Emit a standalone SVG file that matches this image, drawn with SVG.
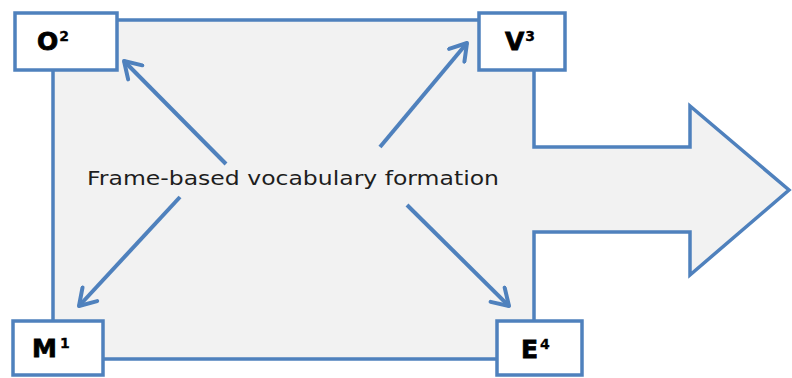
<svg xmlns="http://www.w3.org/2000/svg" width="792" height="378" viewBox="0 0 792 378">
<defs>
<style>
.box{fill:#ffffff;stroke:#4f81bd;stroke-width:3.5}
.lbl{font-family:"DejaVu Sans",Verdana,sans-serif;font-weight:bold;font-size:25px;fill:#000;stroke:#000;stroke-width:0.8}
.sup{font-size:14px;stroke-width:0.3}
.conn{stroke:#4f81bd;stroke-width:4;fill:none;marker-end:url(#ah)}
</style>
<marker id="ah" markerUnits="userSpaceOnUse" viewBox="-20 -12 24 24" refX="0" refY="0" markerWidth="24" markerHeight="24" orient="auto">
<path d="M-16,-10 L0,0 L-16,10" fill="none" stroke="#4f81bd" stroke-width="4" stroke-linecap="round" stroke-linejoin="round"/>
</marker>
</defs>
<rect width="792" height="378" fill="#ffffff"/>
<g id="frame">
<path d="M53,20 L534,20 L534,147 L690,147 L690,106 L789,190 L690,275 L690,232 L534,232 L534,359 L53,359 Z" fill="#f2f2f2" stroke="#4f81bd" stroke-width="3.5" stroke-linejoin="miter"/>
<text x="293" y="185" text-anchor="middle" font-family="'DejaVu Sans',Verdana,sans-serif" font-size="20" fill="#1e1e1e" textLength="412" lengthAdjust="spacingAndGlyphs">Frame-based vocabulary formation</text>
</g>
<g id="connectors">
<line class="conn" x1="226" y1="164" x2="124" y2="61"/>
<line class="conn" x1="380" y1="147" x2="467" y2="43"/>
<line class="conn" x1="180" y1="197" x2="79" y2="306"/>
<line class="conn" x1="407" y1="205" x2="509" y2="306"/>
</g>
<g id="O">
<rect class="box" x="15" y="13" width="102" height="57"/>
<text class="lbl" x="37" y="50">O<tspan class="sup" dx="1" dy="-9">2</tspan></text>
</g>
<g id="V">
<rect class="box" x="479" y="13" width="86" height="57"/>
<text class="lbl" x="505" y="50">V<tspan class="sup" dx="1" dy="-9">3</tspan></text>
</g>
<g id="M">
<rect class="box" x="13" y="321" width="90" height="54"/>
<text class="lbl" x="32" y="357">M<tspan class="sup" dx="3" dy="-9">1</tspan></text>
</g>
<g id="E">
<rect class="box" x="497" y="321" width="85" height="54"/>
<text class="lbl" x="521" y="358">E<tspan class="sup" dx="2" dy="-9">4</tspan></text>
</g>
</svg>
